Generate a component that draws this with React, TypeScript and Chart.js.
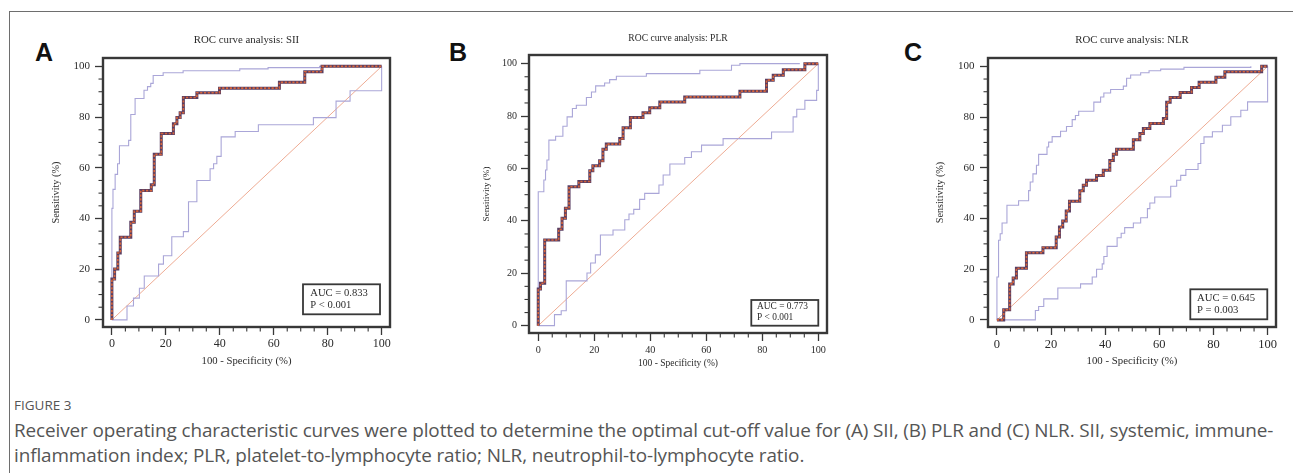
import React, { useEffect, useRef } from 'react';
import { Chart, registerables } from 'chart.js';

Chart.register(...registerables);

// ---------- axis ticks & labels ----------
const X_TICKS = [0, 20, 40, 60, 80, 100];
const Y_TICKS = [0, 20, 40, 60, 80, 100];
const MINOR_TICKS = [5, 10, 15, 25, 30, 35, 45, 50, 55, 65, 70, 75, 85, 90, 95];
const X_LABEL = '100 - Specificity (%)';
const Y_LABEL = 'Sensitivity (%)';
const TITLES = ['ROC curve analysis: SII', 'ROC curve analysis: PLR', 'ROC curve analysis: NLR'];
const PANEL_LETTERS = ['A', 'B', 'C'];
const AUC_TEXT = ['AUC = 0.833', 'AUC = 0.773', 'AUC = 0.645'];
const P_TEXT = ['P < 0.001', 'P < 0.001', 'P = 0.003'];

// reference diagonal
const DIAG_X = [0, 100];
const DIAG_Y = [0, 100];

// ---------- Panel A: SII ----------
const siiRocX = [0, 0, 1.0, 2.2, 3.1, 7.0, 8.3, 10.7, 14.6, 15.7, 18.3, 22.8, 24.1, 25.3, 26.5, 31.5, 39.9, 62.1, 71.5, 77.9, 100];
const siiRocY = [0, 16.1, 20.1, 26.4, 32.6, 38.5, 42.9, 51.0, 53.3, 65.3, 73.5, 77.4, 79.8, 81.7, 87.7, 89.6, 91.4, 93.7, 97.9, 100, 100];
const siiUpX = [0, 0, 0.4, 1.2, 2.1, 2.8, 6.2, 7.0, 8.6, 11.9, 13.2, 14.4, 15.3, 19.0, 26.4, 47.4, 57.9, 77.0, 100];
const siiUpY = [0, 44.0, 51.5, 57.4, 61.6, 68.7, 70.8, 81.0, 87.3, 90.6, 92.0, 93.3, 96.4, 97.5, 98.3, 99.0, 99.5, 100, 100];
const siiLoX = [0, 5.6, 8.0, 10.2, 12.0, 17.3, 19.1, 22.2, 26.5, 28.4, 31.5, 36.4, 37.7, 38.9, 40.5, 45.7, 54.3, 74.7, 83.1, 88.3, 100];
const siiLoY = [0, 5.5, 8.6, 12.5, 17.3, 22.0, 25.3, 32.8, 34.8, 46.6, 55.0, 59.6, 61.6, 64.5, 72.2, 74.3, 77.0, 79.8, 86.3, 90.4, 100];

// ---------- Panel B: PLR ----------
const plrRocX = [0, 0, 0.8, 2.3, 7.3, 8.5, 9.7, 11.0, 14.5, 18.4, 19.5, 21.9, 23.1, 24.3, 29.1, 30.3, 32.9, 37.4, 39.8, 43.4, 52.3, 72.0, 81.5, 83.9, 87.5, 95.2, 100];
const plrRocY = [0, 14.0, 16.2, 32.7, 36.8, 41.0, 44.8, 53.0, 55.0, 59.1, 61.0, 62.9, 67.3, 69.3, 71.4, 75.5, 79.4, 81.3, 83.2, 85.4, 87.3, 89.5, 93.7, 95.6, 97.7, 100, 100];
const plrUpX = [0, 0, 2.0, 2.6, 3.1, 3.8, 6.2, 8.8, 10.3, 12.2, 13.6, 17.2, 19.0, 20.5, 23.7, 25.5, 27.9, 38.6, 57.7, 69.0, 72.0, 93.4];
const plrUpY = [0, 51.1, 55.6, 59.4, 63.2, 70.8, 72.3, 76.1, 79.7, 82.9, 84.1, 87.1, 89.2, 91.5, 92.6, 93.9, 95.2, 96.2, 97.5, 99.4, 100, 100];
const plrLoX = [0, 5.8, 8.2, 10.0, 17.4, 18.7, 20.4, 22.2, 26.7, 30.9, 32.4, 34.1, 36.2, 38.0, 43.1, 44.6, 47.0, 52.3, 54.7, 58.3, 66.0, 83.3, 91.0, 92.3, 95.2, 99.4, 100];
const plrLoY = [0, 4.2, 5.7, 17.1, 20.1, 23.9, 27.0, 34.6, 36.5, 40.4, 42.6, 44.4, 48.2, 50.5, 53.7, 57.5, 61.7, 64.2, 66.4, 68.9, 71.4, 73.9, 79.7, 82.6, 86.0, 89.8, 100];

// ---------- Panel C: NLR ----------
const nlrRocX = [0, 2.5, 4.7, 6.0, 7.2, 10.9, 17.0, 21.9, 23.1, 24.3, 25.6, 26.8, 30.6, 31.9, 33.1, 36.8, 39.3, 41.7, 43.0, 44.2, 50.4, 52.8, 54.1, 56.5, 61.5, 62.7, 64.0, 67.7, 71.9, 74.7, 80.9, 84.2, 97.8, 100];
const nlrRocY = [0, 4.0, 14.2, 16.5, 20.4, 26.5, 28.5, 32.7, 36.6, 39.0, 43.0, 46.8, 50.9, 53.1, 55.1, 57.0, 59.0, 62.9, 65.3, 67.3, 71.1, 73.5, 75.5, 77.5, 79.4, 85.8, 87.7, 89.7, 91.7, 93.7, 95.7, 97.9, 100, 100];
const nlrUpX = [0, 0, 0.6, 1.2, 1.9, 3.7, 8.0, 11.7, 12.3, 13.3, 14.6, 15.4, 18.5, 19.1, 20.4, 23.5, 25.7, 27.8, 29.0, 30.2, 35.8, 38.3, 39.5, 42.0, 46.7, 47.9, 49.4, 53.1, 56.2, 60.5, 69.1, 93.8];
const nlrUpY = [0, 16.9, 31.4, 34.0, 38.2, 45.2, 47.0, 51.0, 54.4, 57.6, 61.0, 65.3, 68.2, 70.1, 72.3, 74.4, 76.3, 79.0, 80.6, 82.3, 85.9, 87.9, 89.5, 90.9, 92.2, 95.3, 96.6, 97.5, 98.3, 98.9, 99.6, 100];
const nlrLoX = [0, 14.2, 15.4, 17.3, 22.5, 30.9, 35.2, 36.8, 38.9, 39.5, 40.7, 44.4, 45.9, 47.2, 50.4, 53.1, 55.6, 56.5, 58.3, 64.2, 66.4, 67.9, 69.8, 74.3, 75.3, 76.5, 79.6, 83.3, 86.4, 90.1, 92.6, 100];
const nlrLoY = [0, 3.7, 5.3, 8.3, 12.6, 14.2, 16.9, 20.0, 22.1, 25.0, 29.0, 32.4, 34.2, 36.4, 38.2, 40.3, 43.9, 46.1, 48.5, 52.7, 55.1, 57.0, 59.3, 61.7, 69.6, 72.2, 74.2, 76.8, 80.1, 82.7, 86.0, 100];

// ---------- styling ----------
const SERIF = '"Liberation Serif", "Times New Roman", Times, serif';
const TEXT_COLOR = '#2b2b2b';
const FRAME_COLOR = '#383838';
const ROC_DARK = '#5a3f63';
const ROC_ORANGE = '#d9653a';
const CI_COLOR = '#aaa6d8';
const DIAG_COLOR = '#eeab93';

const PANEL_SERIES = [
  { rocX: siiRocX, rocY: siiRocY, upX: siiUpX, upY: siiUpY, loX: siiLoX, loY: siiLoY },
  { rocX: plrRocX, rocY: plrRocY, upX: plrUpX, upY: plrUpY, loX: plrLoX, loY: plrLoY },
  { rocX: nlrRocX, rocY: nlrRocY, upX: nlrUpX, upY: nlrUpY, loX: nlrLoX, loY: nlrLoY },
];

// layout geometry (page pixels)
const PANEL_LAYOUT = [
  {
    left: 40, top: 20, w: 370, h: 360, padRight: 20, yScaleW: 63, xScaleH: 53,
    titleFont: 10.8, titlePadTop: 13.7, titlePadBottom: 11.34,
    xTickFont: 12, xTickPad: 2, yTickFont: 11, yTickPad: 5,
    xTitleFont: 10.7, xTitlePadBottom: 12.6, yTitleFont: 10.3, yTitlePadTop: 9.8,
    aucFont: 10.6, boxRight: 10, boxBottom: 12.7, boxW: 77, boxH: 30, textDX: 7.3, line1DY: 9, line2DY: 20.7,
    letterLeft: 35,
  },
  {
    left: 466, top: 20, w: 381, h: 360, padRight: 20, yScaleW: 63, xScaleH: 47,
    titleFont: 9.6, titlePadTop: 13.0, titlePadBottom: 10.48,
    xTickFont: 10.2, xTickPad: 3, yTickFont: 10, yTickPad: 4,
    xTitleFont: 9.5, xTitlePadBottom: 11, yTitleFont: 9.1, yTitlePadTop: 15.2,
    aucFont: 9.4, boxRight: 8.7, boxBottom: 7.3, boxW: 67, boxH: 25.7, textDX: 5.7, line1DY: 6.7, line2DY: 17.3,
    letterLeft: 449,
  },
  {
    left: 925, top: 20, w: 368, h: 360, padRight: 17, yScaleW: 63, xScaleH: 53,
    titleFont: 10.8, titlePadTop: 13.7, titlePadBottom: 11.34,
    xTickFont: 12.5, xTickPad: 2, yTickFont: 11, yTickPad: 5.5,
    xTitleFont: 10.8, xTitlePadBottom: 12.5, yTitleFont: 10.2, yTitlePadTop: 9.6,
    aucFont: 10.7, boxRight: 8.7, boxBottom: 7.7, boxW: 77, boxH: 30, textDX: 6.7, line1DY: 8.4, line2DY: 20.7,
    letterLeft: 904,
  },
];

const toPoints = (xs: number[], ys: number[]) => xs.map((x, i) => ({ x, y: ys[i] }));

const rocFramePlugin = {
  id: 'rocFrame',
  afterDraw(chart: any, _args: any, opts: any) {
    const { ctx, chartArea: a, scales } = chart;
    ctx.save();
    // plot frame
    ctx.strokeStyle = FRAME_COLOR;
    ctx.lineWidth = 2.4;
    ctx.strokeRect(a.left, a.top, a.right - a.left, a.bottom - a.top);
    // minor ticks
    ctx.lineWidth = 1.1;
    MINOR_TICKS.forEach((v) => {
      const px = scales.x.getPixelForValue(v);
      ctx.beginPath();
      ctx.moveTo(px, a.bottom);
      ctx.lineTo(px, a.bottom + 4.5);
      ctx.stroke();
      const py = scales.y.getPixelForValue(v);
      ctx.beginPath();
      ctx.moveTo(a.left, py);
      ctx.lineTo(a.left - 4.5, py);
      ctx.stroke();
    });
    // AUC box
    const bx = a.right - opts.boxRight - opts.boxW;
    const by = a.bottom - opts.boxBottom - opts.boxH;
    ctx.fillStyle = '#ffffff';
    ctx.fillRect(bx, by, opts.boxW, opts.boxH);
    ctx.lineWidth = 1.8;
    ctx.strokeStyle = FRAME_COLOR;
    ctx.strokeRect(bx, by, opts.boxW, opts.boxH);
    ctx.fillStyle = TEXT_COLOR;
    ctx.font = `${opts.aucFont}px ${SERIF}`;
    ctx.textAlign = 'left';
    ctx.textBaseline = 'middle';
    ctx.fillText(opts.auc, bx + opts.textDX, by + opts.line1DY);
    ctx.fillText(opts.p, bx + opts.textDX, by + opts.line2DY);
    ctx.restore();
  },
};

function RocPanel({ index }: { index: number }) {
  const ref = useRef<HTMLCanvasElement | null>(null);
  const L = PANEL_LAYOUT[index];
  useEffect(() => {
    const s = PANEL_SERIES[index];
    const stepLine = (xs: number[], ys: number[], color: string, width: number, order: number, dash: number[] = []) => ({
      data: toPoints(xs, ys),
      borderColor: color,
      borderWidth: width,
      borderDash: dash,
      stepped: 'before',
      pointRadius: 0,
      fill: false,
      order,
    });
    const chart = new Chart(ref.current as HTMLCanvasElement, {
      type: 'line',
      data: {
        datasets: [
          stepLine(s.rocX, s.rocY, ROC_ORANGE, 1.6, 0, [2.2, 1.6]),
          stepLine(s.rocX, s.rocY, ROC_DARK, 3.0, 1),
          stepLine(s.upX, s.upY, CI_COLOR, 1.1, 2),
          stepLine(s.loX, s.loY, CI_COLOR, 1.1, 3),
          {
            data: toPoints(DIAG_X, DIAG_Y),
            borderColor: DIAG_COLOR,
            borderWidth: 1,
            pointRadius: 0,
            fill: false,
            order: 4,
          },
        ] as any,
      },
      options: {
        animation: false,
        responsive: false,
        maintainAspectRatio: false,
        devicePixelRatio: 1,
        layout: { padding: { left: 0, top: 0, right: L.padRight, bottom: 0 } },
        plugins: {
          legend: { display: false },
          tooltip: { enabled: false },
          title: {
            display: true,
            text: TITLES[index],
            fullSize: false,
            color: TEXT_COLOR,
            font: { family: SERIF, size: L.titleFont, weight: 'normal', lineHeight: 1.2 },
            padding: { top: L.titlePadTop, bottom: L.titlePadBottom },
          },
          rocFrame: {
            auc: AUC_TEXT[index],
            p: P_TEXT[index],
            aucFont: L.aucFont,
            boxRight: L.boxRight,
            boxBottom: L.boxBottom,
            boxW: L.boxW,
            boxH: L.boxH,
            textDX: L.textDX,
            line1DY: L.line1DY,
            line2DY: L.line2DY,
          },
        } as any,
        scales: {
          x: {
            type: 'linear',
            min: -3.3,
            max: 103.1,
            afterBuildTicks: (axis: any) => {
              axis.ticks = X_TICKS.map((v) => ({ value: v }));
            },
            afterFit: (axis: any) => {
              axis.height = L.xScaleH;
            },
            border: { display: false },
            grid: { display: true, drawOnChartArea: false, drawTicks: true, tickLength: 8, tickColor: FRAME_COLOR, tickWidth: 1.3 },
            ticks: {
              color: TEXT_COLOR,
              padding: L.xTickPad,
              maxRotation: 0,
              font: { family: SERIF, size: L.xTickFont, lineHeight: 1.2 },
              callback: (v: any) => String(v),
            },
            title: {
              display: true,
              text: X_LABEL,
              color: TEXT_COLOR,
              font: { family: SERIF, size: L.xTitleFont, lineHeight: 1.2 },
              padding: { top: 0, bottom: L.xTitlePadBottom },
            },
          },
          y: {
            type: 'linear',
            min: -2.8,
            max: 103.3,
            afterBuildTicks: (axis: any) => {
              axis.ticks = Y_TICKS.map((v) => ({ value: v }));
            },
            afterFit: (axis: any) => {
              axis.width = L.yScaleW;
            },
            border: { display: false },
            grid: { display: true, drawOnChartArea: false, drawTicks: true, tickLength: 8, tickColor: FRAME_COLOR, tickWidth: 1.3 },
            ticks: {
              color: TEXT_COLOR,
              padding: L.yTickPad,
              font: { family: SERIF, size: L.yTickFont, lineHeight: 1.2 },
              callback: (v: any) => String(v),
            },
            title: {
              display: true,
              text: Y_LABEL,
              color: TEXT_COLOR,
              font: { family: SERIF, size: L.yTitleFont, lineHeight: 1.2 },
              padding: { top: L.yTitlePadTop, bottom: 0 },
            },
          },
        },
      } as any,
      plugins: [rocFramePlugin],
    });
    return () => chart.destroy();
  }, [index]);
  return (
    <canvas
      ref={ref}
      width={L.w}
      height={L.h}
      style={{ position: 'absolute', left: L.left, top: L.top, width: L.w, height: L.h }}
    />
  );
}

export default function App() {
  return (
    <div
      style={{
        position: 'absolute',
        left: 0,
        top: 0,
        width: 1293,
        height: 473,
        overflow: 'hidden',
        background: '#ffffff',
      }}
    >
      <div
        style={{
          position: 'absolute',
          left: 9,
          top: 11,
          width: 1300,
          height: 480,
          borderTop: '1.5px solid #6e6e6e',
          borderLeft: '1.5px solid #6e6e6e',
        }}
      />
      {PANEL_LETTERS.map((t, i) => (
        <div
          key={t}
          style={{
            position: 'absolute',
            left: PANEL_LAYOUT[i].letterLeft,
            top: 40,
            fontFamily: '"Liberation Sans", Arial, sans-serif',
            fontWeight: 'bold',
            fontSize: 25,
            lineHeight: '25px',
            color: '#111',
          }}
        >
          {t}
        </div>
      ))}
      {[0, 1, 2].map((i) => (
        <RocPanel key={i} index={i} />
      ))}
      <div
        style={{
          position: 'absolute',
          left: 14,
          top: 395,
          fontFamily: '"Open Sans", sans-serif',
          fontSize: 13.5,
          lineHeight: '20px',
          color: '#555',
          whiteSpace: 'nowrap',
        }}
      >
        FIGURE 3
      </div>
      <div
        style={{
          position: 'absolute',
          left: 14,
          top: 418,
          fontFamily: '"Open Sans", sans-serif',
          fontSize: 18.9,
          lineHeight: '25px',
          color: '#555',
          whiteSpace: 'nowrap',
          letterSpacing: '-0.1px',
        }}
      >
        Receiver operating characteristic curves were plotted to determine the optimal cut-off value for (A) SII, (B) PLR and (C) NLR. SII, systemic, immune-
        <br />
        inflammation index; PLR, platelet-to-lymphocyte ratio; NLR, neutrophil-to-lymphocyte ratio.
      </div>
    </div>
  );
}
